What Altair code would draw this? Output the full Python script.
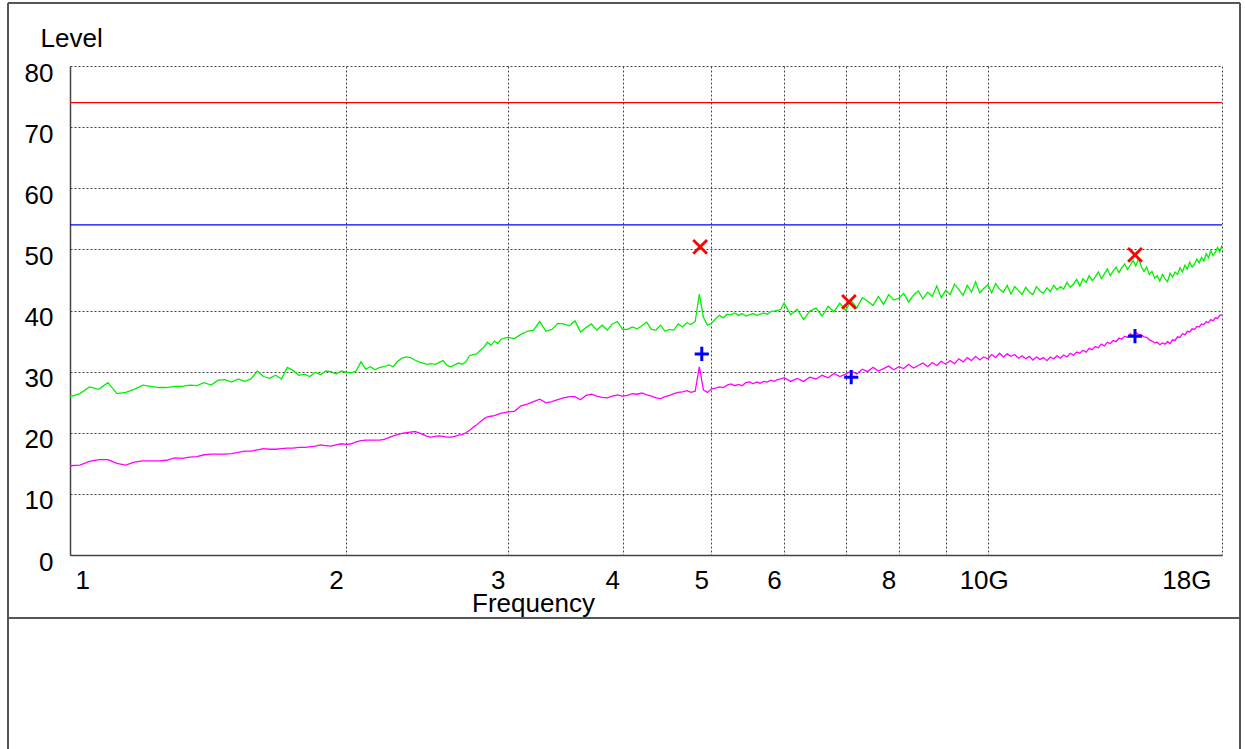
import altair as alt
import pandas as pd

# Plot-area size in pixels
W, H = 1152, 489
FONT = "Liberation Sans"

# Receiver sweep: three segments with their own frequency step (GHz)
def sweep(start, step, n):
    return [round(start + step * i, 3) for i in range(n)]

freq_1 = sweep(1.0, 0.025, 81)    # 1.000 .. 3.000 GHz
freq_2 = sweep(3.05, 0.05, 60)    # 3.05 .. 6.00 GHz
freq_3 = sweep(6.1, 0.1, 120)     # 6.1 .. 18.0 GHz

# Peak detector trace (dBuV/m)
peak_1 = [
    25.9, 26.4, 27.5, 27.1, 28.2, 26.4, 26.6, 27.1, 27.8, 27.6,
    27.4, 27.4, 27.6, 27.6, 27.8, 27.7, 28.2, 27.8, 28.6, 28.7,
    28.3, 28.8, 28.4, 28.8, 30.1, 29.2, 28.9, 29.4, 28.8, 30.7,
    30.2, 29.4, 29.6, 29.2, 29.9, 29.5, 30.1, 30.0, 29.6, 30.1,
    29.9, 29.8, 30.1, 31.6, 30.4, 30.8, 30.3, 30.7, 30.8, 31.1,
    30.8, 31.7, 32.2, 32.4, 32.3, 31.9, 31.6, 31.4, 31.2, 31.3,
    31.2, 31.5, 31.8, 31.0, 30.8, 31.1, 31.4, 31.2, 31.6, 32.6,
    32.8, 32.9, 33.5, 34.0, 34.8, 34.3, 35.0, 34.6, 35.3, 35.5,
    35.6,
]
peak_2 = [
    35.4, 36.1, 36.6, 36.8, 38.2, 36.6, 36.9, 37.9, 37.8, 37.5,
    38.3, 36.5, 37.2, 37.8, 36.8, 37.6, 36.8, 37.8, 38.2, 36.9,
    36.9, 37.3, 37.0, 37.5, 38.1, 36.9, 36.8, 37.6, 36.6, 36.9,
    36.8, 37.8, 37.3, 38.0, 37.7, 38.2, 42.7, 38.9, 37.6, 37.9,
    38.6, 39.2, 38.8, 39.4, 39.3, 39.6, 39.2, 39.5, 39.1, 39.3,
    39.5, 39.2, 39.4, 39.6, 39.4, 39.8, 39.9, 40.0, 40.2, 41.2,
]
peak_3 = [
    39.3, 40.2, 38.5, 39.9, 40.4, 39.1, 40.7, 39.8, 41.2, 40.0,
    41.6, 40.4, 42.1, 41.5, 40.8, 42.3, 41.0, 42.6, 41.7, 42.0,
    42.8, 41.4, 42.5, 43.2, 41.9, 43.0, 42.3, 44.0, 42.1, 43.3,
    42.6, 44.3, 43.4, 42.5, 44.1, 43.0, 44.7, 42.9, 43.6, 44.2,
    42.9, 44.4, 43.5, 43.0, 44.1, 42.7, 43.9, 43.3, 42.6, 43.8,
    43.0, 42.6, 43.9, 43.2, 42.8, 43.7, 43.1, 44.1, 43.4, 43.9,
    43.5, 44.6, 43.8, 44.3, 45.1, 44.0, 45.2, 44.6, 45.7, 44.9,
    45.5, 46.3, 45.2, 46.0, 46.8, 45.7, 46.5, 47.1, 46.2, 47.0,
    47.6, 46.7, 47.4, 48.2, 47.3, 48.5, 47.2, 46.4, 47.1, 45.9,
    46.4, 45.3, 45.7, 44.8, 45.9, 45.2, 44.7, 46.1, 45.5, 46.3,
    45.9, 47.0, 46.3, 47.4, 46.8, 47.9, 47.1, 47.6, 48.4, 47.8,
    48.7, 48.1, 49.3, 48.6, 49.8, 49.0, 49.5, 50.3, 49.6, 50.7,
]

# Average detector trace (dBuV/m)
avg_1 = [
    14.6, 14.7, 15.3, 15.6, 15.6, 15.0, 14.7, 15.2, 15.4, 15.4,
    15.4, 15.5, 15.9, 15.8, 16.0, 16.1, 16.4, 16.5, 16.5, 16.5,
    16.6, 16.8, 17.0, 17.0, 17.2, 17.4, 17.3, 17.3, 17.4, 17.5,
    17.5, 17.6, 17.6, 17.7, 17.8, 18.0, 17.9, 17.8, 18.0, 18.2,
    18.1, 18.2, 18.5, 18.7, 18.8, 18.8, 18.8, 18.8, 18.9, 19.2,
    19.5, 19.7, 19.9, 20.0, 20.1, 20.2, 20.0, 19.7, 19.4, 19.3,
    19.4, 19.5, 19.4, 19.3, 19.3, 19.4, 19.6, 19.7, 20.0, 20.4,
    20.9, 21.3, 21.8, 22.3, 22.6, 22.7, 22.8, 23.0, 23.2, 23.3,
    23.4,
]
avg_2 = [
    23.5, 24.4, 24.7, 25.1, 25.5, 24.9, 25.1, 25.4, 25.7, 25.9,
    25.9, 25.4, 26.1, 26.3, 26.0, 25.8, 25.7, 26.0, 26.2, 26.0,
    26.1, 26.4, 26.3, 26.5, 26.2, 26.0, 25.7, 25.6, 25.9, 26.1,
    26.4, 26.6, 26.7, 26.9, 26.6, 26.8, 30.8, 27.0, 26.6, 27.2,
    27.3, 27.5, 27.4, 27.8, 28.0, 27.7, 27.9, 27.7, 28.2, 28.3,
    28.0, 28.3, 28.1, 28.4, 28.3, 28.6, 28.4, 28.7, 28.8, 29.0,
]
avg_3 = [
    28.4, 28.9, 28.4, 29.1, 28.8, 29.4, 29.0, 29.7, 29.2, 29.6,
    30.1, 29.6, 30.4, 30.0, 30.7, 30.1, 30.5, 30.9, 30.3, 30.8,
    30.5, 31.2, 30.6, 31.0, 31.4, 30.8, 31.5, 31.0, 31.7, 31.2,
    31.8, 31.3, 32.1, 31.6, 32.3, 31.8, 32.5, 31.9, 32.4, 32.1,
    32.8, 32.3, 33.0, 32.4, 32.9, 32.5, 32.8, 32.2, 32.6, 32.1,
    32.5, 31.9, 32.4, 32.0, 32.3, 31.8, 32.4, 32.1, 32.6, 32.2,
    32.7, 32.4, 33.0, 32.7, 33.2, 33.0, 33.5, 33.2, 33.8, 33.6,
    34.1, 33.9, 34.5, 34.2, 34.8, 34.6, 35.1, 34.9, 35.5, 35.3,
    35.8, 35.6, 36.2, 35.9, 36.4, 36.1, 36.0, 35.7, 35.6, 35.2,
    35.0, 34.7, 34.8, 34.4, 34.7, 34.5, 34.9, 34.6, 35.2, 35.1,
    35.7, 35.6, 36.2, 36.0, 36.6, 36.5, 37.0, 36.9, 37.4, 37.3,
    37.8, 37.7, 38.2, 38.0, 38.5, 38.3, 38.8, 38.7, 39.2, 39.3,
]

# Final measurement points
qp_freq = [4.86, 7.06, 14.47]
qp_level = [50.4, 41.4, 49.1]
av_freq = [4.88, 7.10, 14.47]
av_level = [32.9, 29.1, 35.8]

# Limit lines
peak_limit = 74
avg_limit = 54

# Axis ticks
x_ticks = [1, 2, 3, 4, 5, 6, 7, 8, 9, 10, 18]
y_ticks = [0, 10, 20, 30, 40, 50, 60, 70, 80]

freq = freq_1 + freq_2 + freq_3
peak = peak_1 + peak_2 + peak_3
avg = avg_1 + avg_2 + avg_3

traces = pd.DataFrame({
    "freq": freq + freq,
    "level": peak + avg,
    "trace": ["Peak"] * len(peak) + ["Average"] * len(avg),
})
qp_df = pd.DataFrame({"freq": qp_freq, "level": qp_level})
av_df = pd.DataFrame({"freq": av_freq, "level": av_level})
one = pd.DataFrame({"k": [0]})

x_axis = alt.Axis(
    values=x_ticks,
    labelExpr="datum.value == 7 || datum.value == 9 ? '' : "
              "(datum.value >= 10 ? datum.value + 'G' : '' + datum.value)",
    labelAlign={"condition": [
        {"test": "datum.value == 1", "value": "left"},
        {"test": "datum.value == 10", "value": "center"},
    ], "value": "right"},
    labelOffset={"condition": [
        {"test": "datum.value == 1", "value": 5},
        {"test": "datum.value == 10", "value": -4},
        {"test": "datum.value == 18", "value": -11},
    ], "value": -3},
    labelOverlap=False, labelFlush=False, labelBound=False,
    labelBaseline="top", labelPadding=12,
    labelFont=FONT, labelFontSize=26, labelColor="black",
    ticks=False, grid=True, gridColor="#444", gridDash=[2, 2], gridWidth=1,
    domainColor="#444", domainWidth=1.5,
    title="Frequency", titleFont=FONT, titleFontSize=26, titleFontWeight="normal",
    titleColor="black", titleX=463, titleY=56, titleAlign="center",
    titleBaseline="alphabetic", titleAnchor="start",
)
y_axis = alt.Axis(
    values=y_ticks,
    labelFont=FONT, labelFontSize=26, labelColor="black",
    labelPadding=17, labelOffset=7, labelBaseline="middle",
    ticks=False, grid=True, gridColor="#444", gridDash=[2, 2], gridWidth=1,
    domainColor="#444", domainWidth=1.5,
    title="Level", titleFont=FONT, titleFontSize=26, titleFontWeight="normal",
    titleColor="black", titleAngle=0, titleX=-30, titleY=-20,
    titleAlign="left", titleBaseline="alphabetic", titleAnchor="start",
)

y_scale = alt.Scale(domain=[0, 80], nice=False, zero=False)
x_enc = alt.X("freq:Q", scale=alt.Scale(type="log", domain=[1, 18], nice=False), axis=x_axis)
y_enc = alt.Y("level:Q", scale=y_scale, axis=y_axis)

lines = alt.Chart(traces).mark_line(strokeWidth=1.3, clip=True).encode(
    x=x_enc, y=y_enc,
    color=alt.Color("trace:N", scale=alt.Scale(domain=["Peak", "Average"],
                                              range=["#00f000", "#ff00ff"]), legend=None),
)

limit_peak = alt.Chart(one).mark_rule(color="#ff0000", strokeWidth=1.3).encode(
    x=alt.value(0), x2=alt.value(W), y=alt.datum(peak_limit, scale=y_scale))
limit_avg = alt.Chart(one).mark_rule(color="#0000ff", strokeWidth=1.3).encode(
    x=alt.value(0), x2=alt.value(W), y=alt.datum(avg_limit))

qp_marks = alt.Chart(qp_df).mark_point(
    shape="M-1,-1L1,1M-1,1L1,-1", filled=False, size=190, strokeWidth=2.8, color="#ff0000", opacity=1
).encode(x=x_enc, y=y_enc)
av_marks = alt.Chart(av_df).mark_point(
    shape="M-1,0L1,0M0,-1L0,1", filled=False, size=200, strokeWidth=3, color="#0000ff", opacity=1
).encode(x=x_enc, y=y_enc)

# Outer frame and lower panel divider (pixel positions relative to the plot origin)
frame_col = "#555"
frame = [
    alt.Chart(one).mark_rule(color=frame_col, strokeWidth=2).encode(
        x=alt.value(-62), x2=alt.value(1170), y=alt.value(-63)),
    alt.Chart(one).mark_rule(color=frame_col, strokeWidth=2).encode(
        x=alt.value(-62), y=alt.value(-63), y2=alt.value(690)),
    alt.Chart(one).mark_rule(color=frame_col, strokeWidth=2).encode(
        x=alt.value(1170), y=alt.value(-63), y2=alt.value(690)),
    alt.Chart(one).mark_rule(color=frame_col, strokeWidth=2).encode(
        x=alt.value(-62), x2=alt.value(1170), y=alt.value(552)),
]

chart = alt.layer(
    lines, limit_peak, limit_avg, qp_marks, av_marks, *frame
).properties(
    width=W, height=H,
    padding={"left": 70, "top": 66, "right": 23, "bottom": 194},
    autosize=alt.AutoSizeParams(type="none"),
).configure_view(strokeWidth=0)

chart.save("out.html", embed_options={"renderer": "svg", "actions": False})
